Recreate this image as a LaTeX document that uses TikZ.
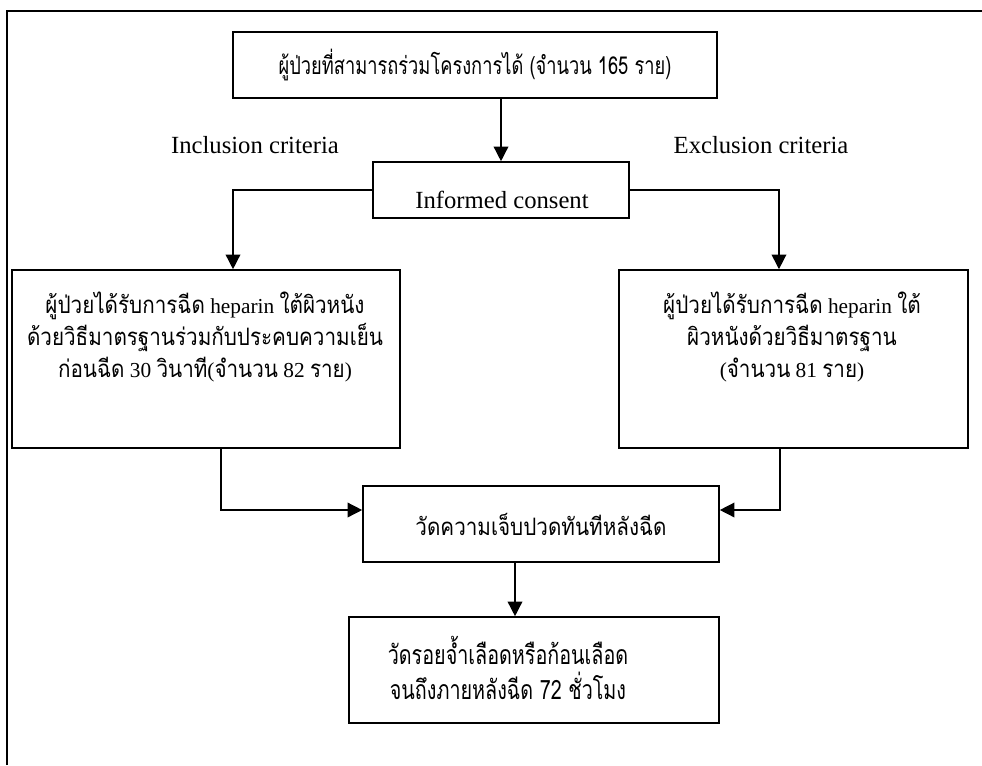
\documentclass[tikz,border=0pt]{standalone}
\usepackage{fontspec}
\setmainfont{Liberation Serif}
\newfontfamily\thaifont[Script=Thai,Scale=1.125,FakeStretch=0.86]{Loma}
\newfontfamily\thainarrow[Script=Thai,FakeStretch=0.74]{Loma}
\usetikzlibrary{arrows.meta}

\begin{document}
\begin{tikzpicture}[x=0.75pt,y=-0.75pt,
  box/.style={draw,line width=1.2pt,inner sep=0pt},
  txt/.style={align=center,inner sep=0pt,font=\fontsize{18.5}{24}\selectfont},
  boxtxt/.style={align=center,inner sep=0pt,font=\fontsize{16}{24}\selectfont},
  arr/.style={line width=1.1pt,-{Triangle[length=11pt,width=11pt]}}]
\useasboundingbox (0,0) rectangle (982,765);
% outer frame
\draw[line width=1.2pt] (7,765)--(7,11)--(982,11);
% boxes
\node[box,txt,minimum width=363pt,minimum height=49.5pt] (top) at (475,65)
  {\thainarrow ผู้ป่วยที่สามารถร่วมโครงการได้ (จำนวน 165 ราย)};
\node[box,minimum width=192pt,minimum height=42pt] (consent) at (501,190) {};
\node[txt] (consenttext) at (502,200) {Informed consent};
\node[txt] (incl) at (255,145) {Inclusion criteria};
\node[txt] (excl) at (761,145) {Exclusion criteria};
\node[box,minimum width=291pt,minimum height=133.5pt] (left) at (206,359) {};
\node[boxtxt] (lefttext) at (205,337)
  {{\thaifont ผู้ป่วยได้รับการฉีด} heparin {\thaifont ใต้ผิวหนัง}\\
   {\thaifont ด้วยวิธีมาตรฐานร่วมกับประคบความเย็น}\\
   {\thaifont ก่อนฉีด} 30 {\thaifont วินาที}({\thaifont จำนวน} 82 {\thaifont ราย})};
\node[box,minimum width=261.75pt,minimum height=133.5pt] (right) at (793.5,359) {};
\node[boxtxt] (righttext) at (792,337)
  {{\thaifont ผู้ป่วยได้รับการฉีด} heparin {\thaifont ใต้}\\
   {\thaifont ผิวหนังด้วยวิธีมาตรฐาน}\\
   ({\thaifont จำนวน} 81 {\thaifont ราย})};
\node[box,boxtxt,minimum width=267pt,minimum height=57pt] (mid) at (541,524)
  {\thaifont วัดความเจ็บปวดทันทีหลังฉีด};
\node[box,minimum width=277.5pt,minimum height=79.5pt] (bot) at (534,670) {};
\node[txt,font=\fontsize{20}{26}\selectfont] (bottext) at (508,668)
  {{\thainarrow วัดรอยจ้ำเลือดหรือก้อนเลือด}\\
   {\thainarrow จนถึงภายหลังฉีด 72 ชั่วโมง}};
% connectors
\draw[arr] (top.south -| consent.north) -- (consent.north);
\draw[arr] (consent.west) -| ([xshift=20.25pt]left.north);
\draw[arr] (consent.east) -| ([xshift=-10.9pt]right.north);
\draw[arr] ([xshift=11.25pt]left.south) |- ([yshift=10.5pt]mid.west);
\draw[arr] ([xshift=-10.1pt]right.south) |- ([yshift=10.5pt]mid.east);
\draw[arr] ([xshift=-19.5pt]mid.south) -- ([xshift=-14.25pt]bot.north);
\end{tikzpicture}
\end{document}
